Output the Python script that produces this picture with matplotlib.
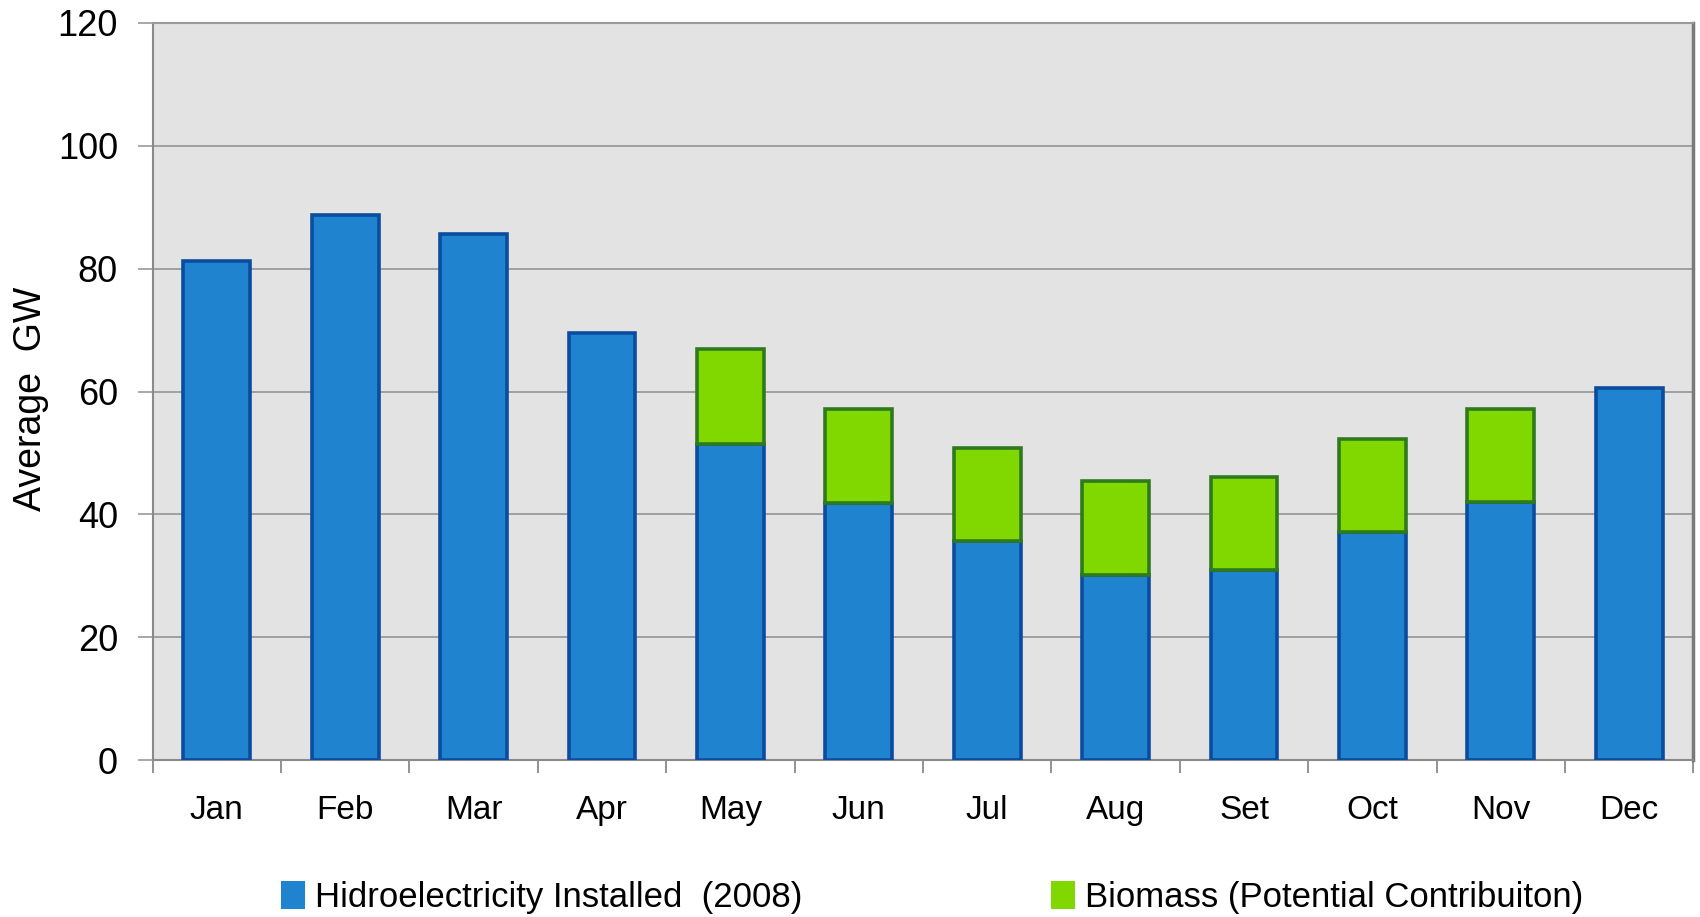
import numpy as np
import matplotlib
matplotlib.use("Agg")
import matplotlib.pyplot as plt

plt.rcParams['font.family'] = ['Liberation Sans', 'DejaVu Sans']

# monthly averages, GW
months = ["Jan", "Feb", "Mar", "Apr", "May", "Jun",
          "Jul", "Aug", "Set", "Oct", "Nov", "Dec"]
hydro = [81.2, 88.8, 85.7, 69.6, 51.4, 41.8, 35.7, 30.2, 31.0, 37.1, 42.1, 60.5]
biomass = [0, 0, 0, 0, 15.5, 15.4, 15.1, 15.2, 15.1, 15.2, 15.0, 0]

blue = "#1f83d0"
blue_edge = "#0b4c9e"
green = "#80d800"
green_edge = "#2f7a1e"

fig = plt.figure(figsize=(17, 9.17), dpi=100)
ax = fig.add_axes([0.0898, 0.171, 0.9063, 0.804])
ax.set_facecolor("#e3e3e3")

x = np.arange(len(months))
hb = ax.bar(x, hydro, width=0.52, color=blue, edgecolor=blue_edge, linewidth=2.6,
            label="Hidroelectricity Installed  (2008)", zorder=3)
bio_x = [i for i, b in enumerate(biomass) if b > 0]
gb = ax.bar(bio_x, [biomass[i] for i in bio_x], width=0.52,
            bottom=[hydro[i] for i in bio_x], color=green, edgecolor=green_edge,
            linewidth=2.6, label="Biomass (Potential Contribuiton)", zorder=3)

ax.set_xlim(-0.5, 11.5)
ax.set_ylim(0, 120)
ax.set_yticks(np.arange(0, 121, 20))
ax.yaxis.grid(True, color="#a0a0a0", linewidth=1.4, zorder=0)

ax.set_xticks(x)
ax.set_xticklabels(months, fontsize=24)
ax.set_xticks(np.arange(-0.5, 12, 1), minor=True)
ax.tick_params(axis="x", which="major", length=0, pad=25)
ax.tick_params(axis="x", which="minor", length=9, width=1.3, color="#8a8a8a")
ax.tick_params(axis="y", length=11, width=1.3, color="#a0a0a0",
               labelsize=26, pad=14)

for side in ["left", "bottom"]:
    ax.spines[side].set_color("#8a8a8a")
    ax.spines[side].set_linewidth(1.5)
ax.spines["top"].set_color("#9a9a9a")
ax.spines["top"].set_linewidth(1.5)
ax.spines["right"].set_color("#7a7a7a")
ax.spines["right"].set_linewidth(2.5)

ax.set_ylabel("Average  GW", fontsize=27)
ax.yaxis.set_label_coords(-0.067, 0.49)

# two legend entries, placed separately along the bottom
for handle, xpos in [(hb, 0.165), (gb, 0.618)]:
    leg = fig.legend([handle], [handle.get_label()], loc="center left",
                     bbox_to_anchor=(xpos, 0.021), frameon=False, fontsize=25,
                     handlelength=0.7, handleheight=0.85, handletextpad=0.3,
                     borderpad=0, borderaxespad=0)
    for h in leg.legend_handles:
        h.set_edgecolor("none")

fig.savefig("out.png", dpi=100)
